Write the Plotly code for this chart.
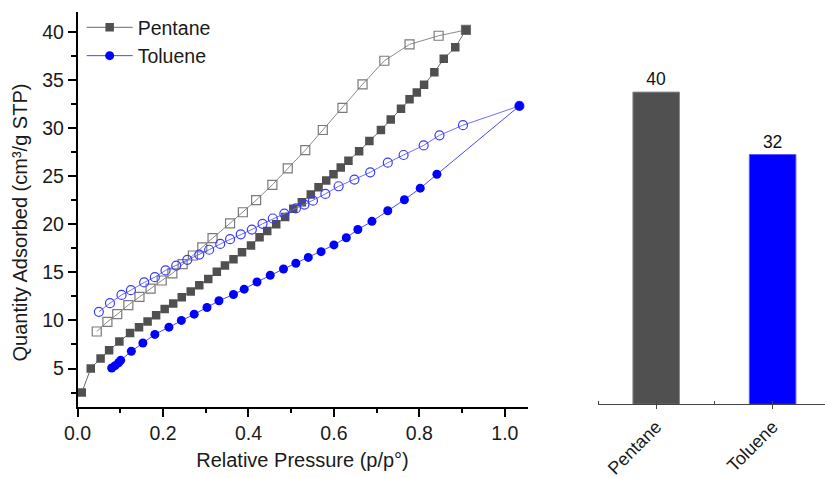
import plotly.graph_objects as go

# ---------------- data ----------------
pentane_ads_x = [0.01, 0.031, 0.054, 0.074, 0.098, 0.123, 0.144, 0.164, 0.184, 0.204, 0.224, 0.244,
                 0.265, 0.285, 0.306, 0.326, 0.345, 0.365, 0.385, 0.406, 0.426, 0.444, 0.465, 0.486,
                 0.505, 0.525, 0.546, 0.564, 0.582, 0.599, 0.616, 0.634, 0.659, 0.683, 0.71, 0.733,
                 0.757, 0.777, 0.794, 0.811, 0.835, 0.857, 0.884, 0.909]
pentane_ads_y = [2.5, 5.0, 6.05, 6.9, 7.8, 8.7, 9.3, 9.9, 10.55, 11.2, 11.75, 12.4,
                 13.0, 13.65, 14.3, 15.05, 15.7, 16.35, 17.1, 17.8, 18.65, 19.3, 20.0, 20.75,
                 21.6, 22.3, 23.1, 23.85, 24.55, 25.2, 25.9, 26.6, 27.6, 28.65, 29.8, 30.9,
                 32.0, 33.0, 33.7, 34.5, 35.8, 37.2, 38.4, 40.2]

pentane_des_x = [0.909, 0.845, 0.777, 0.718, 0.667, 0.62, 0.574, 0.533, 0.492, 0.456, 0.418, 0.387,
                 0.357, 0.316, 0.292, 0.27, 0.246, 0.222, 0.197, 0.171, 0.145, 0.119, 0.093, 0.07, 0.045]
pentane_des_y = [40.2, 39.6, 38.7, 37.0, 34.55, 32.1, 29.8, 27.7, 25.8, 24.1, 22.5, 21.25,
                 20.1, 18.55, 17.6, 16.75, 15.85, 14.9, 14.15, 13.3, 12.45, 11.6, 10.65, 9.85, 8.85]

toluene_ads_x = [0.08, 0.088, 0.096, 0.101, 0.126, 0.153, 0.181, 0.214, 0.243, 0.273, 0.303, 0.331,
                 0.365, 0.39, 0.42, 0.451, 0.482, 0.511, 0.54, 0.57, 0.6, 0.629, 0.656, 0.689,
                 0.726, 0.765, 0.802, 0.841, 1.034]
toluene_ads_y = [5.05, 5.3, 5.6, 5.85, 6.8, 7.65, 8.55, 9.3, 10.0, 10.65, 11.35, 12.05,
                 12.7, 13.25, 14.0, 14.7, 15.35, 15.95, 16.55, 17.15, 17.85, 18.6, 19.45, 20.3,
                 21.4, 22.55, 23.75, 25.2, 32.3]

toluene_des_x = [1.034, 0.902, 0.847, 0.81, 0.763, 0.726, 0.685, 0.648, 0.611, 0.58, 0.551, 0.531,
                 0.511, 0.484, 0.457, 0.433, 0.408, 0.382, 0.357, 0.334, 0.308, 0.285, 0.257, 0.231,
                 0.206, 0.181, 0.156, 0.125, 0.103, 0.076, 0.05]
toluene_des_y = [32.3, 30.3, 29.25, 28.2, 27.2, 26.4, 25.4, 24.65, 23.95, 23.15, 22.45, 22.05,
                 21.65, 21.1, 20.6, 20.05, 19.45, 18.95, 18.45, 17.95, 17.35, 16.85, 16.3, 15.7,
                 15.2, 14.5, 13.95, 13.15, 12.65, 11.8, 10.9]

bar_categories = ["Pentane", "Toluene"]
bar_values = [40, 32]
bar_labels = ["40", "32"]

x_ticks = [0.0, 0.2, 0.4, 0.6, 0.8, 1.0]
y_ticks = [5, 10, 15, 20, 25, 30, 35, 40]

x_title = "Relative Pressure (p/p°)"
y_title = "Quantity Adsorbed (cm³/g STP)"

# ---------------- styles ----------------
FONT = "Liberation Sans, Arial, sans-serif"
GRAY = "#505050"
GRAY_LINE = "#6a6a6a"
BLUE = "#0000ff"
BLUE_LINE = "#4a4aff"
W, H = 825, 478

fig = go.Figure()

fig.add_trace(go.Scatter(
    x=pentane_des_x, y=pentane_des_y, mode="lines+markers", showlegend=False,
    line=dict(color="#8a8a8a", width=1),
    marker=dict(symbol="square-open", size=9, color="#7a7a7a", line=dict(width=1.2)),
    xaxis="x", yaxis="y"))
fig.add_trace(go.Scatter(
    x=pentane_ads_x, y=pentane_ads_y, mode="lines+markers", name="Pentane",
    line=dict(color=GRAY_LINE, width=1),
    marker=dict(symbol="square", size=8.5, color=GRAY),
    xaxis="x", yaxis="y"))
fig.add_trace(go.Scatter(
    x=toluene_des_x, y=toluene_des_y, mode="lines+markers", showlegend=False,
    line=dict(color="#6f6fff", width=1),
    marker=dict(symbol="circle-open", size=9, color="#3a3aff", line=dict(width=1.2)),
    xaxis="x", yaxis="y"))
fig.add_trace(go.Scatter(
    x=toluene_ads_x, y=toluene_ads_y, mode="lines+markers", name="Toluene",
    line=dict(color=BLUE_LINE, width=1),
    marker=dict(symbol="circle", size=9, color=BLUE),
    xaxis="x", yaxis="y"))

fig.add_trace(go.Bar(
    x=list(range(len(bar_categories))), y=bar_values, text=bar_labels,
    textposition="outside", cliponaxis=False, showlegend=False,
    textfont=dict(size=17.5, color="#111", family=FONT),
    marker=dict(color=[GRAY, BLUE], line=dict(color=["#8a8a8a", "#5a5aff"], width=1)),
    width=0.4, xaxis="x2", yaxis="y2"))

axis_common = dict(showgrid=False, zeroline=False, showline=True, linecolor="black",
                   linewidth=1.5, ticks="outside", tickcolor="black", tickwidth=1.5,
                   automargin=False,
                   tickfont=dict(size=19.5, color="#1a1a1a", family=FONT))

fig.update_layout(
    width=W, height=H,
    margin=dict(l=0, r=0, t=0, b=0),
    paper_bgcolor="white", plot_bgcolor="white",
    font=dict(family=FONT, color="#1a1a1a"),
    xaxis=dict(domain=[77.5 / W, 527.5 / W], range=[0, 1.053],
               tickvals=x_ticks, ticktext=[f"{v:.1f}" for v in x_ticks], ticklen=8,
               minor=dict(dtick=0.1, tick0=0, ticklen=4, ticks="outside", tickcolor="black"),
               title=dict(text=x_title, font=dict(size=20), standoff=10),
               anchor="y", **axis_common),
    yaxis=dict(domain=[(H - 407) / H, (H - 11.7) / H], range=[1.0, 42.1],
               tickvals=y_ticks, ticklen=8,
               minor=dict(dtick=2.5, tick0=0, ticklen=5, ticks="outside", tickcolor="black"),
               anchor="x", **axis_common),
    xaxis2=dict(domain=[598 / W, 1.0], range=[-0.5, 1.45], anchor="y2", automargin=False,
                tickvals=list(range(len(bar_categories))), ticktext=bar_categories,
                tickangle=-45, showgrid=False, zeroline=False, showline=True,
                linecolor="#444", linewidth=1, ticks="outside", ticklen=4, tickcolor="#444",
                minor=dict(dtick=0.5, tick0=-0.5, ticks="inside", ticklen=3, tickcolor="#444"),
                tickfont=dict(size=18, color="#1a1a1a", family=FONT)),
    yaxis2=dict(domain=[(H - 404.3) / H, (H - 11.7) / H], range=[0, 50.3], anchor="x2",
                visible=False),
    legend=dict(x=0.099, y=0.983, xanchor="left", yanchor="top", bgcolor="rgba(0,0,0,0)",
                font=dict(size=19.5, family=FONT, color="#1a1a1a"), tracegroupgap=0,
                itemwidth=46),
    annotations=[dict(text=y_title, textangle=-90, xref="paper", yref="paper",
                      x=20 / W, y=1 - 222.5 / H, xanchor="center", yanchor="middle",
                      showarrow=False, font=dict(size=20, family=FONT, color="#1a1a1a"))],
)

fig.write_html("out.html")
